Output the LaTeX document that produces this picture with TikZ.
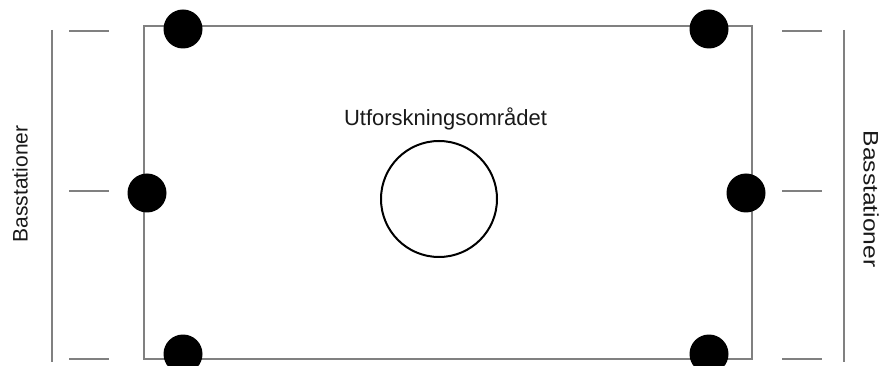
\documentclass[tikz,border=0pt]{standalone}
\usepackage{fontspec}
\setmainfont{Liberation Sans}
\usepackage{graphicx}
\begin{document}
\begin{tikzpicture}[x=1pt,y=-1pt,
  gline/.style={draw=black!50,line width=2pt},
  dot/.style={circle,fill=black,inner sep=0pt,minimum size=39pt},
  lbl/.style={inner sep=0pt,text=black!90,font=\fontsize{21}{25}\selectfont}]
\useasboundingbox (0,0) rectangle (884,366);
% area rectangle
\coordinate (tl) at (144,26);
\coordinate (br) at (752,359);
\draw[gline,line join=miter] (tl) rectangle (br);
% left rulers
\draw[gline] (52,30) coordinate (la) -- (52,362) coordinate (lb);
\draw[gline] (69,31) coordinate (d1a) -- (109,31) coordinate (d1b);
\draw[gline] (69,191) coordinate (d2a) -- (109,191) coordinate (d2b);
\draw[gline] (69,359) coordinate (d3a) -- (109,359) coordinate (d3b);
% right rulers
\draw[gline] (844,30) coordinate (ra) -- (844,362) coordinate (rb);
\draw[gline] (782,31) coordinate (e1a) -- (822,31) coordinate (e1b);
\draw[gline] (782,191) coordinate (e2a) -- (822,191) coordinate (e2b);
\draw[gline] (782,359) coordinate (e3a) -- (822,359) coordinate (e3b);
% base station dots
\node[dot] (s1) at (183,29) {};
\node[dot] (s2) at (709,29) {};
\node[dot] (s3) at (147,193) {};
\node[dot] (s4) at (746,193) {};
\node[dot] (s5) at (183,354) {};
\node[dot] (s6) at (709,354) {};
% exploration area
\node[circle,draw=black,line width=2pt,minimum size=116pt,inner sep=0pt] (area) at (439,199) {};
\node[lbl,anchor=base,font=\fontsize{22}{26}\selectfont] (title) at (445.5,126) {Utforskningsområdet};
% side labels
\node[lbl,rotate=90] (bl) at (20,184) {Basstationer};
\node[lbl,rotate=-90] (br2) at (871,199) {\scalebox{1.17}[1]{Basstationer}};
\end{tikzpicture}
\end{document}
